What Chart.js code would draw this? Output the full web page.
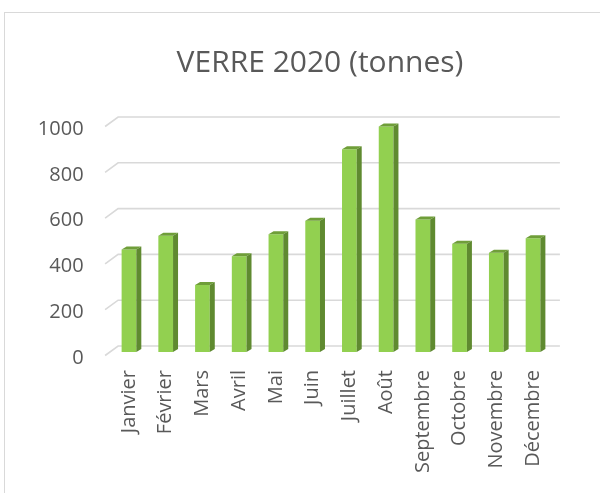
<!DOCTYPE html>
<html>
<head>
<meta charset="utf-8">
<script src="https://cdn.jsdelivr.net/npm/chart.js@4"></script>
<style>
    html, body { margin: 0; padding: 0; background: #fff; overflow: hidden; }
    .cadre {
        position: absolute; left: 4px; top: 12px;
        width: 700px; height: 600px;
        border: 1.5px solid #d9d9d9;
    }
    #graph { position: absolute; left: 0; top: 0; }
</style>
</head>
<body>
<div class="cadre"></div>
<canvas id="graph" width="600" height="493"></canvas>
<script>
// Données
const mois = ["Janvier", "Février", "Mars", "Avril", "Mai", "Juin",
              "Juillet", "Août", "Septembre", "Octobre", "Novembre", "Décembre"];
const tonnes = [448, 508, 293, 418, 514, 573, 885, 985, 579, 473, 433, 497];
const graduations = [0, 200, 400, 600, 800, 1000];
const titre = "VERRE 2020 (tonnes)";

const GRIS_TEXTE = "#595959";
const GRIS_GRILLE = "#d9d9d9";

// Titre centré sur le cadre (le plugin title se centre sur la zone utile)
const titreCadre = {
    id: "titreCadre",
    afterDraw(chart) {
        const { ctx } = chart;
        ctx.save();
        ctx.fillStyle = GRIS_TEXTE;
        ctx.font = "30px 'Open Sans'";
        ctx.textAlign = "center";
        ctx.textBaseline = "middle";
        ctx.fillText(titre, 320, 63);
        ctx.restore();
    },
};

// Effet 3D : grille au fond + faces du dessus et de côté sur chaque barre
const relief3d = {
    id: "relief3d",
    beforeDatasetsDraw(chart) {
        const { ctx, chartArea, scales } = chart;
        ctx.save();
        ctx.strokeStyle = GRIS_GRILLE;
        ctx.lineWidth = 1.6;
        graduations.forEach((v) => {
            const py = scales.y.getPixelForValue(v);
            ctx.beginPath();
            ctx.moveTo(chartArea.left - 5.5, py + 3.5);
            ctx.lineTo(chartArea.left + 7.5, py - 6);
            ctx.lineTo(chartArea.right + 8.5, py - 6);
            ctx.stroke();
        });
        ctx.restore();
    },
    afterDatasetsDraw(chart) {
        const { ctx } = chart;
        const dx = 5, dy = 3;
        ctx.save();
        chart.getDatasetMeta(0).data.forEach((bar) => {
            const g = bar.x - bar.width / 2;
            const d = bar.x + bar.width / 2;
            // dessus
            ctx.fillStyle = "#6f9e39";
            ctx.beginPath();
            ctx.moveTo(g, bar.y);
            ctx.lineTo(d, bar.y);
            ctx.lineTo(d + dx, bar.y - dy);
            ctx.lineTo(g + dx, bar.y - dy);
            ctx.closePath();
            ctx.fill();
            // côté
            ctx.fillStyle = "#5f8a30";
            ctx.beginPath();
            ctx.moveTo(d, bar.y);
            ctx.lineTo(d + dx, bar.y - dy);
            ctx.lineTo(d + dx, bar.base - dy);
            ctx.lineTo(d, bar.base);
            ctx.closePath();
            ctx.fill();
        });
        ctx.restore();
    },
};

new Chart(document.getElementById("graph"), {
    type: "bar",
    data: {
        labels: mois,
        datasets: [{
            data: tonnes,
            backgroundColor: "#92d050",
            borderWidth: 0,
            categoryPercentage: 1,
            barPercentage: 0.4,
        }],
    },
    options: {
        responsive: false,
        animation: false,
        layout: { padding: { left: 0.6, right: 48.6, top: 123, bottom: 0 } },
        plugins: {
            legend: { display: false },
            tooltip: { enabled: false },
            title: { display: false },
        },
        scales: {
            x: {
                grid: { display: false, drawTicks: false },
                border: { display: false },
                ticks: {
                    color: GRIS_TEXTE,
                    font: { family: "Open Sans", size: 20 },
                    minRotation: 90, maxRotation: 90,
                    padding: 18,
                    autoSkip: false,
                },
                afterFit: (s) => { s.height = 141; },
            },
            y: {
                min: 0, max: 1000,
                grid: { display: false, drawTicks: false },
                border: { display: false },
                ticks: {
                    stepSize: 200,
                    color: GRIS_TEXTE,
                    font: { family: "Open Sans", size: 20 },
                    padding: 27,
                    labelOffset: 6,
                    callback: (v) => String(v),
                },
                afterFit: (s) => { s.width = 110; },
            },
        },
    },
    plugins: [relief3d, titreCadre],
});
</script>
</body>
</html>
